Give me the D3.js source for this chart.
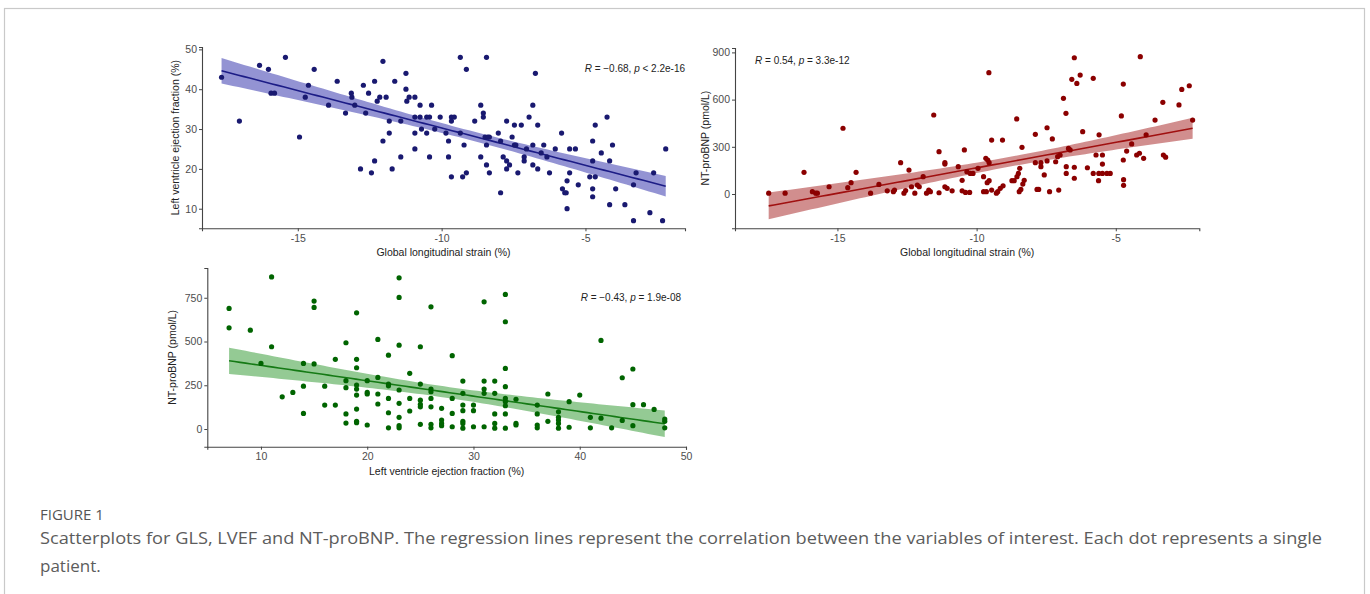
<!DOCTYPE html>
<html>
<head>
<meta charset="utf-8">
<script src="https://cdn.jsdelivr.net/npm/d3@7/dist/d3.min.js"></script>
<style>
  body { margin: 0; background: #fff; }
  svg { display: block; }
</style>
</head>
<body>
<svg id="fig" width="1370" height="594"></svg>
<script>
// panel A: GLS vs LVEF
var glsA = [-17.65,-17.03,-16.33,-16.02,-15.93,-15.81,-15.43,-14.94,-14.74,-14.63,-14.43,-13.93,-13.63,-13.34,-13.14,-13.12,-13.02,-12.82,-12.72,-12.64,-12.54,-12.44,-12.33,-12.33,-12.24,-12.15,-12.04,-12.04,-11.93,-11.82,-11.82,-11.72,-11.63,-11.42,-11.42,-11.24,-11.24,-11.21,-11.13,-10.93,-10.93,-10.93,-10.93,-10.75,-10.75,-10.7,-10.52,-10.52,-10.42,-10.42,-10.35,-10.24,
  -10.05,-9.85,-9.76,-9.76,-9.66,-9.66,-9.56,-9.66,-9.35,-9.35,-9.27,-9.22,-9.14,-9.14,-8.85,-8.64,-8.64,-8.55,-8.55,-8.44,-8.49,-8.40,-8.34,-8.44,-8.44,-8.34,-8.03,-7.95,-7.95,-7.86,-7.74,-7.74,-7.74,-7.64,-7.55,-7.47,-7.23,-7.47,-7.42,-7.35,-7.13,-7.13,-6.96,-7.05,-6.83,-6.83,-6.83,-6.74,-6.66,-6.66,-6.54,-6.45,-6.34,-6.25,-6.05,-5.83,-5.8,-5.72,-5.67,-5.64,-5.64,-5.55,-5.55,-5.35,-5.25,-4.85,-4.75,-4.75,-4.75,-4.75,-4.66,-4.66,-4.45,-4.25,-4.16,-4.16,-4.06,-3.95,-3.63,-3.33,-3.33,-3.24,-2.76,-2.63,-2.32,-2.21];
var lvefA = [43,32,46,45,39,39,48,28,38,41,45,36,42,34,39,38,36,20,41,34,39,19,42,22,37,38,47,27,38,32,29,20,42,32,23,44,40,37,38,38,33,29,25,36,33,30,29,33,33,23,36,30,
  33,29,27,23,33,32,33,18,48,29,18,26,45,19,32,36,23,34,33,48,28,28,28,26,21,19,29,27,14,23,32,22,20,21,28,31,31,26,26,19,23,22,33,25,36,26,21,44,31,20,24,26,23,19,25,29,15,14,14,17,10,19,25,25,16,18,27,22,15,13,18,31,24,33,22,11,26,15,11,16,7,19,9,19,7,25];

// panel B: GLS vs NT-proBNP
var glsB = [-17.47,-16.88,-16.20,-15.90,-15.78,-15.72,-15.30,-14.80,-14.63,-14.51,-14.33,-13.81,-13.51,-13.21,-12.99,-12.95,-12.73,-12.61,-12.55,-12.43,-12.34,-12.22,-12.13,-12.06,-11.92,-11.80,-11.72,-11.66,-11.54,-11.35,-11.35,-11.14,-11.14,-11.14,-11.06,-10.88,-10.66,-10.52,-10.52,
  -10.40,-10.25,-10.44,-10.35,-10.23,-10.13,-9.95,-9.75,-9.75,-9.65,-9.67,-9.60,-9.62,-9.55,-9.56,-9.55,-9.46,-9.46,-9.29,-9.24,-9.15,-9.05,-9.07,-8.73,-8.65,-8.56,-8.55,-8.50,-8.45,-8.47,-8.41,-8.34,-8.29,-8.37,-7.89,-7.89,-7.83,-7.77,-7.69,-7.69,-7.57,-7.47,-7.47,-7.38,-7.28,-7.16,-7.09,-7.00,-7.05,-6.88,-6.79,-6.78,-6.78,-6.70,-6.64,-6.58,-6.49,-6.49,-6.49,-6.40,-6.28,-6.19,-6.02,-5.81,-5.81,-5.71,-5.62,-5.61,-5.60,-5.48,-5.48,-5.48,-5.32,-5.20,-4.80,-4.73,-4.73,-4.72,-4.72,-4.61,-4.43,-4.25,-4.15,-4.12,-4.00,-3.91,-3.59,-3.31,-3.29,-3.21,-2.73,-2.63,-2.36,-2.24];
var bnpB = [5,5,138,15,5,5,46,418,40,72,138,5,61,20,15,25,199,5,22,152,46,5,57,46,110,5,25,15,502,269,8,199,190,46,36,20,174,87,20,
  10,10,280,142,131,131,163,110,15,15,227,216,72,85,771,199,343,25,5,15,36,52,343,85,85,477,110,131,163,15,29,63,87,297,379,199,29,29,199,174,121,421,210,15,350,205,237,248,25,608,513,174,131,290,280,729,866,170,100,703,756,396,167,735,131,248,85,131,376,248,190,131,131,131,496,699,216,91,55,273,318,248,259,873,227,376,470,583,248,234,566,665,688,470];

// panel C: LVEF vs NT-proBNP
var lvefC = [7,7,9,10,11,11,12,13,14,14,14,15,15,15,16,16,17,17,18,18,18,18,18,19,19,19,19,19,19,19,19,19,20,20,20,20,21,21,21,21,22,22,22,22,22,22,23,23,23,23,23,23,23,23,24,24,24,25,25,25,25,25,25,26,26,26,26,26,26,26,27,27,27,27,28,28,28,28,29,29,29,29,29,29,29,30,30,30,31,31,31,31,31,32,32,32,32,32,33,33,33,33,33,33,33,33,33,34,34,34,36,36,36,36,37,37,38,38,38,38,38,39,39,40,41,41,42,42,43,44,44,45,45,45,46,47,48,48,48];
var bnpC = [689,578,565,375,869,470,184,209,375,245,89,731,695,372,245,137,398,137,493,276,236,86,34,664,398,350,251,228,194,114,44,36,276,209,200,23,512,295,200,143,422,257,247,175,93,7,864,752,479,223,147,67,19,7,318,175,103,470,257,165,141,127,27,698,228,213,175,127,27,7,118,51,32,19,419,175,89,13,274,204,137,105,44,32,5,137,105,13,727,274,228,204,13,274,204,86,32,5,769,613,346,242,175,156,133,86,5,170,32,23,137,86,23,7,200,44,98,67,51,32,5,156,10,194,67,7,506,62,7,293,49,343,139,19,139,112,57,44,7];

var ticksA_x = [-15, -10, -5], ticksA_y = [10, 20, 30, 40, 50];
var ticksB_x = [-15, -10, -5], ticksB_y = [0, 300, 600, 900];
var ticksC_x = [10, 20, 30, 40, 50], ticksC_y = [0, 250, 500, 750];

var svg = d3.select('#fig');
svg.append('rect').attr('x', 4.5).attr('y', 8.5).attr('width', 1360).attr('height', 600)
  .attr('fill', '#fff').attr('stroke', '#c9c9c9').attr('stroke-width', 1.2);

// lm fit with 95% band, like geom_smooth(method = "lm")
function lmFit(xs, ys) {
  var n = xs.length, mx = d3.mean(xs), my = d3.mean(ys), sxx = 0, sxy = 0;
  for (var i = 0; i < n; i++) { sxx += (xs[i] - mx) * (xs[i] - mx); sxy += (xs[i] - mx) * (ys[i] - my); }
  var b = sxy / sxx, a = my - b * mx, sse = 0;
  for (var j = 0; j < n; j++) { var r = ys[j] - a - b * xs[j]; sse += r * r; }
  var s = Math.sqrt(sse / (n - 2)), t = 1.976;
  return d3.range(80).map(function(k) {
    var x = d3.min(xs) + (d3.max(xs) - d3.min(xs)) * k / 79;
    var fit = a + b * x, se = s * Math.sqrt(1 / n + (x - mx) * (x - mx) / sxx);
    return { x: x, y: fit, lo: fit - t * se, hi: fit + t * se };
  });
}

var FONT = 'Liberation Sans, Arial, sans-serif';

function panel(o) {
  var g = svg.append('g');
  var x = d3.scaleLinear().domain(o.xd).range([o.left, o.right]);
  var y = d3.scaleLinear().domain(o.yd).range([o.bottom, o.top]);
  var fit = lmFit(o.xs, o.ys);

  g.append('path').datum(fit)
    .attr('d', d3.area().x(function(d) { return x(d.x); }).y0(function(d) { return y(d.lo); }).y1(function(d) { return y(d.hi); }))
    .attr('fill', o.band).attr('opacity', o.bandOp);
  g.append('path').datum(fit)
    .attr('d', d3.line().x(function(d) { return x(d.x); }).y(function(d) { return y(d.y); }))
    .attr('fill', 'none').attr('stroke', o.line).attr('stroke-width', 1.6);

  g.selectAll('circle.pt').data(o.xs).enter().append('circle')
    .attr('class', 'pt')
    .attr('cx', function(d) { return x(d); })
    .attr('cy', function(d, i) { return y(o.ys[i]); })
    .attr('r', 2.6).attr('fill', o.dot);

  var xAxis = g.append('g').attr('transform', 'translate(0,' + o.bottom + ')')
    .call(d3.axisBottom(x).tickValues(o.xt).tickSize(3).tickPadding(3).tickFormat(function(d) { return String(d); }));
  var yAxis = g.append('g').attr('transform', 'translate(' + o.left + ',0)')
    .call(d3.axisLeft(y).tickValues(o.yt).tickSize(3).tickPadding(2).tickFormat(function(d) { return String(d); }));
  [xAxis, yAxis].forEach(function(ax) {
    ax.select('.domain').attr('stroke', '#444').attr('stroke-width', 1.1);
    ax.selectAll('.tick line').attr('stroke', '#444');
    ax.selectAll('text').attr('fill', '#4d4d4d').style('font-family', FONT).style('font-size', '10.5px');
  });

  g.append('text').attr('x', (o.left + o.right) / 2).attr('y', o.bottom + 28)
    .attr('text-anchor', 'middle').attr('fill', '#222')
    .style('font-family', FONT).style('font-size', '10.5px')
    .text(o.xlab);
  g.append('text').attr('transform', 'translate(' + o.ylx + ',' + (o.top + o.bottom) / 2 + ') rotate(-90)')
    .attr('text-anchor', 'middle').attr('fill', '#222')
    .style('font-family', FONT).style('font-size', '10.5px')
    .text(o.ylab);

  var st = g.append('text').attr('x', o.rx).attr('y', o.ry).attr('text-anchor', o.ranchor)
    .attr('fill', '#222').style('font-family', FONT).style('font-size', '10px');
  st.append('tspan').style('font-style', 'italic').text('R');
  st.append('tspan').text(' = ' + o.rVal + ', ');
  st.append('tspan').style('font-style', 'italic').text('p');
  st.append('tspan').text(' ' + o.pVal);
}

panel({ xs: glsA, ys: lvefA, xd: [-18.33, -1.54], yd: [5.08, 50.6], left: 202, right: 685, top: 47, bottom: 228.3,
  xt: ticksA_x, yt: ticksA_y, dot: '#191970', line: '#1c1c86', band: '#6a6ac2', bandOp: 0.72,
  xlab: 'Global longitudinal strain (%)', ylab: 'Left ventricle ejection fraction (%)', ylx: 179,
  rx: 685, ry: 72, ranchor: 'end', rVal: '\u22120.68', pVal: '< 2.2e-16' });

panel({ xs: glsB, ys: bnpB, xd: [-18.68, -2.0], yd: [-218, 928], left: 735, right: 1199.3, top: 48, bottom: 228.3,
  xt: ticksB_x, yt: ticksB_y, dot: '#8b0000', line: '#a01010', band: '#b54848', bandOp: 0.62,
  xlab: 'Global longitudinal strain (%)', ylab: 'NT-proBNP (pmol/L)', ylx: 709,
  rx: 755, ry: 64, ranchor: 'start', rVal: '0.54', pVal: '= 3.3e-12' });

panel({ xs: lvefC, ys: bnpC, xd: [4.95, 50], yd: [-101, 920], left: 207.3, right: 686, top: 268, bottom: 446.7,
  xt: ticksC_x, yt: ticksC_y, dot: '#006400', line: '#157a15', band: '#4ca64c', bandOp: 0.6,
  xlab: 'Left ventricle ejection fraction (%)', ylab: 'NT-proBNP (pmol/L)', ylx: 176,
  rx: 681, ry: 301, ranchor: 'end', rVal: '\u22120.43', pVal: '= 1.9e-08' });

// caption
svg.append('text').attr('x', 40).attr('y', 520).attr('fill', '#555')
  .style('font-family', 'Open Sans, Lato, sans-serif').style('font-size', '15px')
  .text('FIGURE 1');
svg.append('text').attr('x', 40).attr('y', 544).attr('fill', '#5c5c5c')
  .attr('textLength', 1282).attr('lengthAdjust', 'spacingAndGlyphs')
  .style('font-family', 'Open Sans, Lato, sans-serif').style('font-size', '17px')
  .text('Scatterplots for GLS, LVEF and NT-proBNP. The regression lines represent the correlation between the variables of interest. Each dot represents a single');
svg.append('text').attr('x', 40).attr('y', 572).attr('fill', '#5c5c5c')
  .style('font-family', 'Open Sans, Lato, sans-serif').style('font-size', '17px')
  .text('patient.');
</script>
</body>
</html>
